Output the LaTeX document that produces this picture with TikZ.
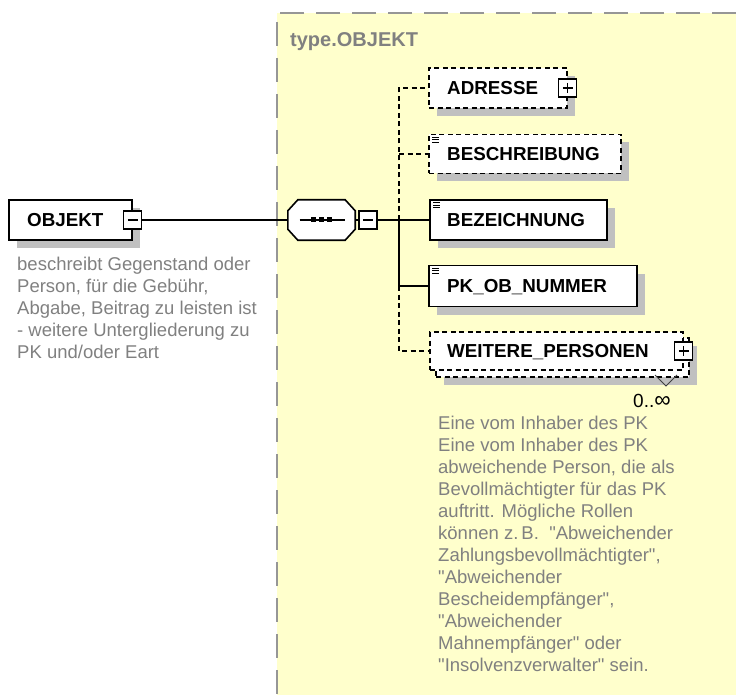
\documentclass[tikz,border=0pt]{standalone}
\usepackage{fontspec}
\setmainfont{Liberation Sans}[Ligatures=TeXOff]
\usetikzlibrary{calc,shadows}
\definecolor{panelc}{RGB}{255,255,204}
\definecolor{shg}{RGB}{192,192,192}
\definecolor{txg}{RGB}{128,128,128}
\definecolor{bordg}{RGB}{150,150,150}
\begin{document}
\begin{tikzpicture}[x=1pt,y=-1pt,
  shd/.style={drop shadow={shadow xshift=8pt,shadow yshift=-8pt,opacity=1,fill=shg}},
  elbox/.style={draw=black,line width=1.6pt,fill=white,inner sep=0pt,rectangle},
  optbox/.style={elbox,dash pattern=on 5pt off 3.5pt},
  lbl/.style={font=\fontsize{18.8}{22}\selectfont\bfseries,inner sep=0pt,anchor=base west},
  desc/.style={font=\fontsize{18.5}{22}\selectfont,text=txg,inner sep=0pt,anchor=north west,align=left},
  conn/.style={draw=black,line width=1.6pt},
  dconn/.style={conn,dash pattern=on 5pt off 3.5pt},
  pmbox/.style={draw=black,fill=white,line width=1.1pt,minimum size=18pt,inner sep=0pt,rectangle},
  minusbox/.style={pmbox,path picture={\draw[line width=1.1pt] ([xshift=4pt]path picture bounding box.west) -- ([xshift=-4pt]path picture bounding box.east);}},
  plusbox/.style={pmbox,path picture={\draw[line width=1.1pt] ([xshift=4pt]path picture bounding box.west) -- ([xshift=-4pt]path picture bounding box.east);
     \draw[line width=1.1pt] ([yshift=-4pt]path picture bounding box.north) -- ([yshift=4pt]path picture bounding box.south);}},
  docicon/.style={line width=0.9pt}
]
\useasboundingbox (0,0) rectangle (736,695);
% panel
\fill[panelc] (277,13) rectangle (736,695);
\draw[bordg,line width=2pt,dash pattern=on 24pt off 12pt] (736,13) -- (277,13) -- (277,695);
\node[font=\fontsize{20}{24}\selectfont\bfseries,text=txg,inner sep=0pt,anchor=base west] (tname) at (290,47) {type.OBJEKT};

% left element
\node[elbox,shd,minimum width=123pt,minimum height=40pt] (objekt) at (70.5,220) {};
\node[lbl] (objektl) at (27,226.7) {OBJEKT};
\node[minusbox] (objminus) at (objekt.east) {};
\node[desc] (objdesc) at (17,257) {beschreibt Gegenstand oder\\Person, für die Gebühr,\\Abgabe, Beitrag zu leisten ist\\- weitere Untergliederung zu\\PK und/oder Eart};

% sequence compositor (octagon)
\node[rectangle,minimum width=67pt,minimum height=40pt,inner sep=0pt] (seq) at (321.5,220) {};
\fill[shg,shift={(8,8)}] ($(seq.north west)+(10,0)$) -- ($(seq.north east)+(-10,0)$) -- ($(seq.north east)+(0,11)$) -- ($(seq.south east)+(0,-11)$) -- ($(seq.south east)+(-10,0)$) -- ($(seq.south west)+(10,0)$) -- ($(seq.south west)+(0,-11)$) -- ($(seq.north west)+(0,11)$) -- cycle;
\draw[line width=1.6pt,fill=white] ($(seq.north west)+(10,0)$) -- ($(seq.north east)+(-10,0)$) -- ($(seq.north east)+(0,11)$) -- ($(seq.south east)+(0,-11)$) -- ($(seq.south east)+(-10,0)$) -- ($(seq.south west)+(10,0)$) -- ($(seq.south west)+(0,-11)$) -- ($(seq.north west)+(0,11)$) -- cycle;
\draw[line width=1.4pt] ($(seq.center)+(-22,0)$) -- ($(seq.center)+(23,0)$);
\foreach \dx in {-8,0,8} \fill ($(seq.center)+(\dx-2.5,-2.5)$) rectangle ($(seq.center)+(\dx+2.5,2.5)$);
\node[minusbox] (seqminus) at (368,220) {};

% child elements
\node[optbox,shd,minimum width=138pt,minimum height=40pt] (adr) at (498,88) {};
\node[lbl] (adrl) at (447,94.7) {ADRESSE};
\node[plusbox] (adrplus) at (adr.east) {};

\node[optbox,shd,minimum width=192pt,minimum height=39pt] (besch) at (525,154) {};
\node[lbl] (beschl) at (447,160.7) {BESCHREIBUNG};

\node[elbox,shd,minimum width=177pt,minimum height=40pt] (bez) at (518.5,220) {};
\node[lbl] (bezl) at (447,226.7) {BEZEICHNUNG};

\node[elbox,shd,minimum width=208pt,minimum height=41pt] (pk) at (533,286) {};
\node[lbl] (pkl) at (447,292.7) {PK\_OB\_NUMMER};

\node[optbox,shd,minimum width=253pt,minimum height=39pt] (wpback) at (562.5,357.5) {};
\node[optbox,minimum width=253pt,minimum height=38pt] (wp) at (556.5,351) {};
\node[lbl] (wpl) at (447,357.7) {WEITERE\_PERSONEN};
\node[plusbox] (wpplus) at (wp.east) {};
\coordinate (card) at (666,376);
\draw[line width=1pt,black!75] ($(card)+(-11,-1)$) -- ($(card)+(0,10)$) -- ($(card)+(11,-1)$);
\node[font=\fontsize{19}{22}\selectfont,inner sep=0pt,anchor=base west] (wpcard) at (633,407) {0..{\fontsize{23}{23}\selectfont ∞}};
\node[desc] (wpdesc) at (438,416) {Eine vom Inhaber des PK\\Eine vom Inhaber des PK\\abweichende Person, die als\\Bevollmächtigter für das PK\\auftritt. Mögliche Rollen\\können z.\,B.\ \ "Abweichender\\Zahlungsbevollmächtigter",\\"Abweichender\\Bescheidempfänger",\\"Abweichender\\Mahnempfänger" oder\\"Insolvenzverwalter" sein.};

% doc icons
\foreach \n in {besch,bez,pk}
  \foreach \d in {3.5,6,8.5}
    \draw[docicon] ($(\n.north west)+(4,\d)$) -- ($(\n.north west)+(11,\d)$);

% connectors
\coordinate (tb) at (399,220);
\draw[conn] (objminus.east) -- (seq.west);
\draw[conn] (seq.east) -- (seqminus.west);
\draw[conn] (seqminus.east) -- (tb) -- (bez.west);
\draw[conn] (tb) |- (pk.west);
\draw[dconn] (tb) -- (tb |- adr.west) -- (adr.west);
\draw[dconn] (tb |- besch.west) -- (besch.west);
\draw[dconn] (tb |- pk.west) |- (wp.west);
\end{tikzpicture}
\end{document}
